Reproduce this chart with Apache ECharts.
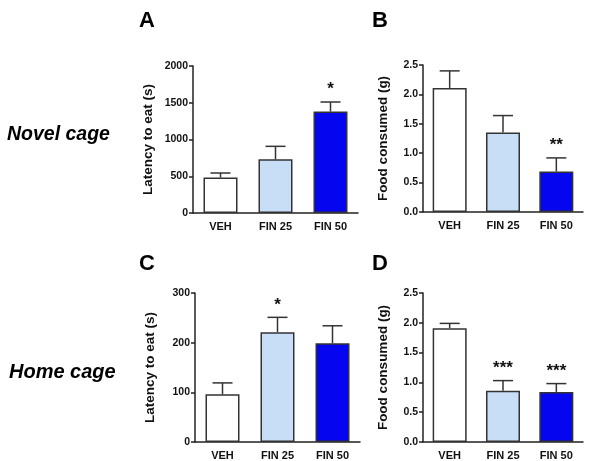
<!DOCTYPE html>
<html><head><meta charset="utf-8">
<script src="https://cdn.jsdelivr.net/npm/echarts@6/dist/echarts.min.js"></script>
<style>html,body{margin:0;padding:0;background:#fff}#c{width:589px;height:461px}</style>
</head><body><div id="c"></div>
<script>
const categories = ['VEH', 'FIN 25', 'FIN 50'];
const barColors = ['#ffffff', '#c8ddf6', '#0505f0'];

const latencyNovelMean = [482, 730, 1380];
const latencyNovelSEM = [62, 177, 130];
const latencyNovelStars = ['', '', '*'];

const foodNovelMean = [2.11, 1.35, 0.69];
const foodNovelSEM = [0.29, 0.29, 0.23];
const foodNovelStars = ['', '', '**'];

const latencyHomeMean = [96, 221, 199];
const latencyHomeSEM = [23, 30, 35];
const latencyHomeStars = ['', '*', ''];

const foodHomeMean = [1.91, 0.86, 0.84];
const foodHomeSEM = [0.08, 0.17, 0.14];
const foodHomeStars = ['', '***', '***'];

const yTicksLatencyNovel = [0, 500, 1000, 1500, 2000];
const yTicksFood = [0.0, 0.5, 1.0, 1.5, 2.0, 2.5];
const yTicksLatencyHome = [0, 100, 200, 300];

const panels = [
  {mean: latencyNovelMean, sem: latencyNovelSEM, stars: latencyNovelStars, ticks: yTicksLatencyNovel, name: 'Latency to eat (s)', dec: 0,
   grid: {left: 193, right: 231, top: 66, bottom: 248}, gap: 38},
  {mean: foodNovelMean, sem: foodNovelSEM, stars: foodNovelStars, ticks: yTicksFood, name: 'Food consumed (g)', dec: 1,
   grid: {left: 423, right: 6, top: 65, bottom: 249}, gap: 33},
  {mean: latencyHomeMean, sem: latencyHomeSEM, stars: latencyHomeStars, ticks: yTicksLatencyHome, name: 'Latency to eat (s)', dec: 0,
   grid: {left: 195, right: 229, top: 293, bottom: 18}, gap: 38},
  {mean: foodHomeMean, sem: foodHomeSEM, stars: foodHomeStars, ticks: yTicksFood, name: 'Food consumed (g)', dec: 1,
   grid: {left: 423, right: 6, top: 293, bottom: 18}, gap: 33}
];

const FONT = 'Liberation Sans, Arial, sans-serif';
const axisColor = '#222';

const grids = [], xAxes = [], yAxes = [], series = [];
panels.forEach((p, i) => {
  grids.push(Object.assign({containLabel: false}, p.grid));
  xAxes.push({
    type: 'category', gridIndex: i, data: categories,
    axisLine: {lineStyle: {color: axisColor, width: 1.5}},
    axisTick: {alignWithLabel: true, length: 3, lineStyle: {color: axisColor, width: 1.5}},
    axisLabel: {color: '#111', fontFamily: FONT, fontWeight: 'bold', fontSize: 11, margin: 8}
  });
  const step = p.ticks[1] - p.ticks[0];
  yAxes.push({
    type: 'value', gridIndex: i, min: p.ticks[0], max: p.ticks[p.ticks.length - 1], interval: step,
    name: p.name, nameLocation: 'middle', nameGap: p.gap,
    nameTextStyle: {color: '#111', fontFamily: FONT, fontWeight: 'bold', fontSize: 13.5},
    axisLine: {show: true, lineStyle: {color: axisColor, width: 1.5}},
    axisTick: {show: true, length: 4, lineStyle: {color: axisColor, width: 1.5}},
    splitLine: {show: false},
    axisLabel: {color: '#111', fontFamily: FONT, fontWeight: 'bold', fontSize: 10.5, margin: 5,
      formatter: v => v.toFixed(p.dec)}
  });
  series.push({
    type: 'bar', xAxisIndex: i, yAxisIndex: i, barWidth: 34,
    data: p.mean.map((v, k) => ({value: v, itemStyle: {color: barColors[k]}})),
    itemStyle: {borderColor: '#333', borderWidth: 1.5},
    z: 2
  });
  series.push({
    type: 'custom', xAxisIndex: i, yAxisIndex: i, z: 3,
    data: p.mean.map((v, k) => [k, v, v + p.sem[k]]),
    renderItem: (params, api) => {
      const x = api.coord([api.value(0), api.value(1)])[0];
      const yTop = api.coord([api.value(0), api.value(1)])[1];
      const yErr = api.coord([api.value(0), api.value(2)])[1];
      const star = p.stars[api.value(0)];
      const children = [
        {type: 'line', shape: {x1: x, y1: yTop, x2: x, y2: yErr}, style: {stroke: '#333', lineWidth: 1.5}},
        {type: 'line', shape: {x1: x - 10, y1: yErr, x2: x + 10, y2: yErr}, style: {stroke: '#333', lineWidth: 1.5}}
      ];
      if (star) {
        children.push({type: 'text', style: {text: star, x: x, y: yErr - 4, align: 'center', verticalAlign: 'bottom',
          fill: '#111', font: 'bold 17px ' + FONT}});
      }
      return {type: 'group', children: children};
    }
  });
});

const labelStyle = {fill: '#000', font: 'bold 22px ' + FONT};
const chart = echarts.init(document.getElementById('c'), null, {renderer: 'canvas'});
chart.setOption({
  animation: false,
  backgroundColor: '#fff',
  grid: grids, xAxis: xAxes, yAxis: yAxes, series: series,
  graphic: [
    {type: 'text', left: 139, top: 10, style: Object.assign({text: 'A'}, labelStyle)},
    {type: 'text', left: 372, top: 10, style: Object.assign({text: 'B'}, labelStyle)},
    {type: 'text', left: 139, top: 253, style: Object.assign({text: 'C'}, labelStyle)},
    {type: 'text', left: 372, top: 253, style: Object.assign({text: 'D'}, labelStyle)},
    {type: 'text', left: 7, top: 125, style: {text: 'Novel cage', fill: '#000', font: 'italic bold 19.5px ' + FONT}},
    {type: 'text', left: 9, top: 362, style: {text: 'Home cage', fill: '#000', font: 'italic bold 20px ' + FONT}}
  ]
});
</script></body></html>
